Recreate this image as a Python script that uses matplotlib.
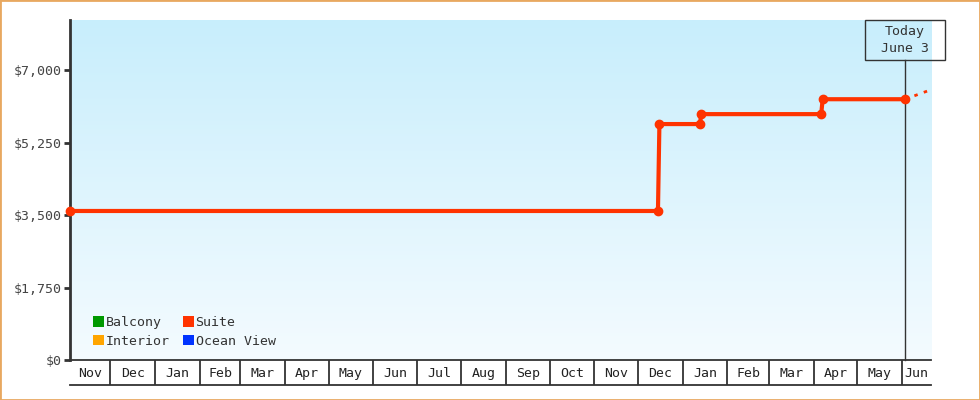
import numpy as np
import pandas as pd
import matplotlib
matplotlib.use("Agg")
import matplotlib.pyplot as plt
import matplotlib.dates as mdates
import matplotlib.transforms as mtransforms
from matplotlib.patches import Patch, Rectangle
from matplotlib.ticker import FuncFormatter

plt.rcParams["font.family"] = ["DejaVu Sans Mono"]

# --- data ---
x_start, x_end = "2022-11-03", "2024-06-21"
today = "2024-06-03"
suite_dates = ["2022-11-03", "2023-12-15", "2023-12-16", "2024-01-13",
               "2024-01-14", "2024-04-06", "2024-04-07", "2024-06-03"]
suite_prices = [3600, 3600, 5700, 5700, 5940, 5940, 6300, 6300]
forecast_dates = ["2024-06-03", "2024-06-21"]
forecast_prices = [6300, 6530]
categories = ["Balcony", "Interior", "Suite", "Ocean View"]
cat_colors = ["#009900", "#ffa500", "#ff3300", "#0033ff"]
y_ticks = [0, 1750, 3500, 5250, 7000]
y_max = 8214

W, H = 980, 400
fig = plt.figure(figsize=(W / 100, H / 100), dpi=100)
ax = fig.add_axes([70 / W, 40 / H, 861 / W, 340 / H])
band = fig.add_axes([70 / W, 15 / H, 861 / W, 25 / H], sharex=ax)

t0, t1, tt = pd.Timestamp(x_start), pd.Timestamp(x_end), pd.Timestamp(today)

# gradient background
grad = np.linspace(0, 1, 256).reshape(-1, 1)
top, bot = np.array([200, 238, 252]) / 255, np.array([244, 251, 255]) / 255
img = top + (bot - top) * grad[..., None]
ax.imshow(img, extent=[0, 1, 0, 1], transform=ax.transAxes, aspect="auto", zorder=0)

# suite price history + dashed projection
ax.plot(pd.to_datetime(forecast_dates), forecast_prices, color=cat_colors[2], lw=2,
        ls=(0, (1.26, 2.34)), zorder=3, clip_on=False)
ax.plot(pd.to_datetime(suite_dates), suite_prices, color=cat_colors[2], lw=3,
        marker="o", ms=6, zorder=3, clip_on=False)

ax.set_xlim(t0, t1)
ax.set_ylim(0, y_max)
ax.set_yticks(y_ticks)
ax.yaxis.set_major_formatter(FuncFormatter(lambda v, p: f"${v:,.0f}"))
ax.tick_params(axis="y", length=4, width=2, color="#333333", labelcolor="#444444",
               labelsize=9.5, pad=2)
ax.tick_params(axis="x", bottom=False, labelbottom=False)
for s in ["top", "right", "bottom"]:
    ax.spines[s].set_visible(False)
ax.spines["left"].set_linewidth(2)
ax.spines["left"].set_color("#333333")

# today marker
trans = mtransforms.blended_transform_factory(ax.transData, ax.transAxes)
ax.plot([tt, tt], [0, 300 / 340], color="#333333", lw=1, transform=trans,
        zorder=2, clip_on=False)
half = pd.Timedelta(days=27.7)
ax.add_patch(Rectangle((mdates.date2num(tt - half), 300 / 340),
                       mdates.date2num(tt + half) - mdates.date2num(tt - half), 40 / 340,
                       transform=trans, fill=False, edgecolor="#333333", lw=1,
                       clip_on=False, zorder=4))
ax.text(tt, 320 / 340, "Today\nJune 3", transform=trans, ha="center", va="center",
        fontsize=9.5, color="#333333", linespacing=1.35, zorder=5)

# legend
handles = [Patch(facecolor=c, edgecolor="none", label=n) for n, c in zip(categories, cat_colors)]
ax.legend(handles=handles, ncol=2, loc="lower left", bbox_to_anchor=(0.027, 0.036),
          frameon=False, fontsize=9.5, handlelength=0.85, handleheight=0.85,
          handletextpad=0.1, columnspacing=1.0, labelspacing=0.45, borderpad=0,
          borderaxespad=0, labelcolor="#333333")

# month band
band.set_ylim(0, 1)
band.tick_params(left=False, labelleft=False, bottom=False, labelbottom=False)
for s in ["left", "right"]:
    band.spines[s].set_visible(False)
for s in ["top", "bottom"]:
    band.spines[s].set_linewidth(1.3)
    band.spines[s].set_color("#333333")
band.patch.set_alpha(0)
months = pd.date_range(t0.to_period("M").to_timestamp(), t1, freq="MS")
for m in months:
    if m > t0:
        band.axvline(m, color="#333333", lw=1.3)
    a = max(m, t0)
    b = min(m + pd.offsets.MonthBegin(1), t1)
    mid = a + (b - a) / 2
    band.text(mid, 0.45, m.strftime("%b"), ha="center", va="center",
              fontsize=9.5, color="#222222")

# outer border
fig.patches.append(Rectangle((0, 0), 1, 1, transform=fig.transFigure, fill=False,
                             edgecolor="#e8a860", lw=2))

fig.savefig("out.png", dpi=100)
